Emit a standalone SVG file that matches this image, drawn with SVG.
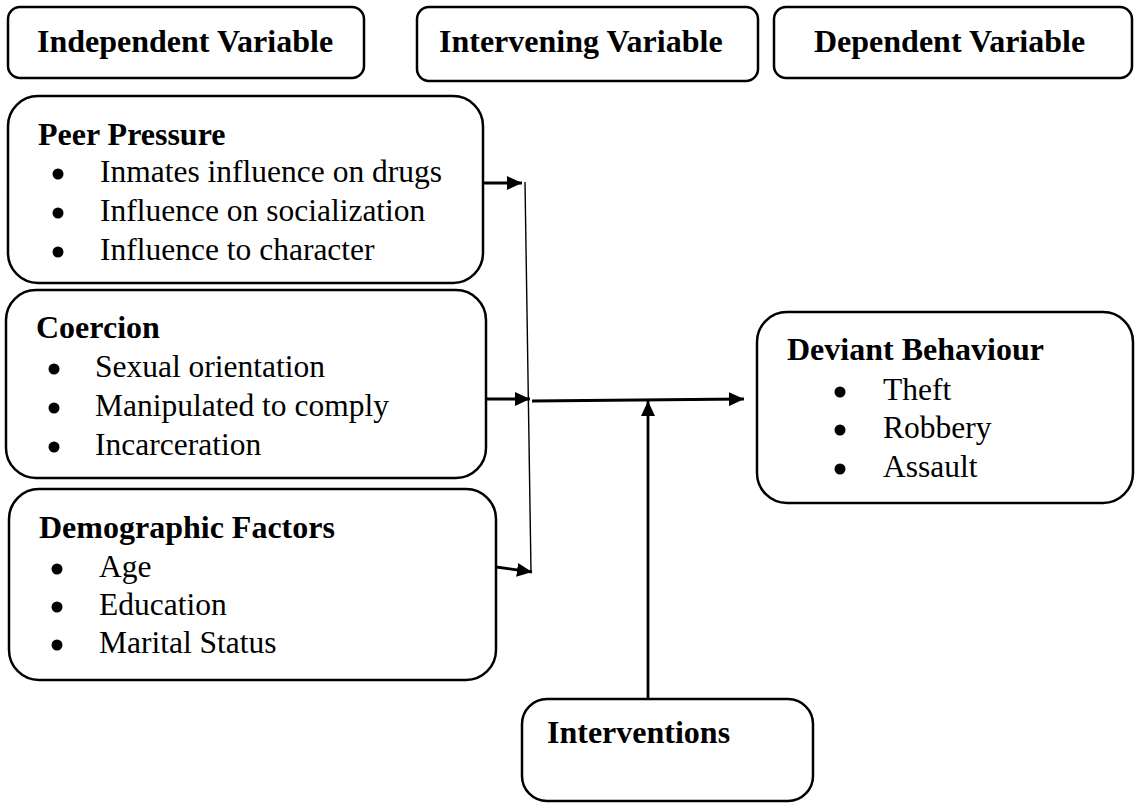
<svg xmlns="http://www.w3.org/2000/svg" width="1135" height="804" viewBox="0 0 1135 804">
<style>
.box{fill:#fff;stroke:#000;stroke-width:2.5}
.t{font-family:"Liberation Serif","Times New Roman",serif;font-weight:bold;font-size:32px;fill:#000}
.i{font-family:"Liberation Serif","Times New Roman",serif;font-size:31.5px;fill:#000}
.b{fill:#000}
.arr{stroke:#000;stroke-width:2.8;fill:none;marker-end:url(#ah)}
.thin{stroke:#000;stroke-width:1.4;fill:none}
</style>
<defs>
<marker id="ah" viewBox="0 0 15 14" refX="15" refY="7" markerWidth="15" markerHeight="14" markerUnits="userSpaceOnUse" orient="auto">
<path d="M0,0 L15,7 L0,14 z" fill="#000"/>
</marker>
</defs>
<g id="hdr-independent">
<rect class="box" x="8" y="7" width="356" height="71" rx="12"/>
<text class="t" x="37" y="52">Independent Variable</text>
</g>
<g id="hdr-intervening">
<rect class="box" x="417" y="7" width="341" height="74" rx="12"/>
<text class="t" x="439" y="52">Intervening Variable</text>
</g>
<g id="hdr-dependent">
<rect class="box" x="774" y="7" width="358" height="71" rx="12"/>
<text class="t" x="814" y="52">Dependent Variable</text>
</g>
<g id="peer-pressure">
<rect class="box" x="8" y="96" width="475" height="187" rx="30"/>
<text class="t" x="38" y="145">Peer Pressure</text>
<circle class="b" cx="58" cy="174" r="5.5"/>
<text class="i" x="100" y="182">Inmates influence on drugs</text>
<circle class="b" cx="58" cy="213" r="5.5"/>
<text class="i" x="100" y="221">Influence on socialization</text>
<circle class="b" cx="58" cy="252" r="5.5"/>
<text class="i" x="100" y="260">Influence to character</text>
</g>
<g id="coercion">
<rect class="box" x="6" y="290" width="480" height="188" rx="30"/>
<text class="t" x="36" y="338">Coercion</text>
<circle class="b" cx="54" cy="369" r="5.5"/>
<text class="i" x="95" y="377">Sexual orientation</text>
<circle class="b" cx="54" cy="408" r="5.5"/>
<text class="i" x="95" y="416">Manipulated to comply</text>
<circle class="b" cx="54" cy="447" r="5.5"/>
<text class="i" x="95" y="455">Incarceration</text>
</g>
<g id="demographic">
<rect class="box" x="9" y="489" width="487" height="191" rx="30"/>
<text class="t" x="39" y="538">Demographic Factors</text>
<circle class="b" cx="57" cy="569" r="5.5"/>
<text class="i" x="99" y="577">Age</text>
<circle class="b" cx="57" cy="607" r="5.5"/>
<text class="i" x="99" y="615">Education</text>
<circle class="b" cx="57" cy="645" r="5.5"/>
<text class="i" x="99" y="653">Marital Status</text>
</g>
<g id="deviant">
<rect class="box" x="757" y="312" width="376" height="191" rx="30"/>
<text class="t" x="787" y="360">Deviant Behaviour</text>
<circle class="b" cx="840" cy="392" r="5.5"/>
<text class="i" x="883" y="400">Theft</text>
<circle class="b" cx="840" cy="430" r="5.5"/>
<text class="i" x="883" y="438">Robbery</text>
<circle class="b" cx="840" cy="469" r="5.5"/>
<text class="i" x="883" y="477">Assault</text>
</g>
<g id="interventions">
<rect class="box" x="522" y="699" width="291" height="102" rx="25"/>
<text class="t" x="547" y="743">Interventions</text>
</g>
<g id="connectors">
<line class="arr" x1="483" y1="183" x2="522" y2="183"/>
<line class="arr" x1="486" y1="399" x2="530" y2="399"/>
<line class="arr" x1="496" y1="567" x2="532" y2="572"/>
<line class="thin" x1="525" y1="182" x2="531" y2="572"/>
<line class="arr" x1="532" y1="401" x2="744" y2="399"/>
<line class="arr" x1="648" y1="699" x2="648" y2="401"/>
</g>
</svg>
